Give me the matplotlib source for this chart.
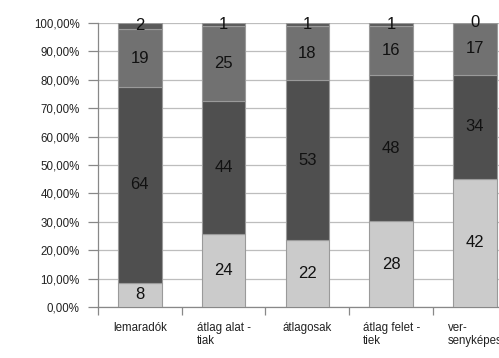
import numpy as np
import matplotlib.pyplot as plt
from matplotlib.ticker import FuncFormatter

plt.rcParams['font.family'] = ['Liberation Sans', 'DejaVu Sans']

categories = ['lemaradók', 'átlag alat -\ntiak', 'átlagosak', 'átlag felet -\ntiek', 'ver-\nsenyképes']
seg1 = [8, 24, 22, 28, 42]
seg2 = [64, 44, 53, 48, 34]
seg3 = [19, 25, 18, 16, 17]
seg4 = [2, 1, 1, 1, 0]

colors = ['#cbcbcb', '#4f4f4f', '#717171', '#5a5a5a']

series = np.array([seg1, seg2, seg3, seg4], dtype=float)
totals = series.sum(axis=0)
shares = series / totals * 100

fig = plt.figure(figsize=(4.99, 3.58), dpi=100)
ax = fig.add_axes([0.196, 0.1425, 0.84, 0.7935])

x = np.arange(len(categories))
bottom = np.zeros(len(categories))
for i in range(len(series)):
    ax.bar(x, shares[i], 0.52, bottom=bottom, color=colors[i],
           edgecolor='#9a9a9a', linewidth=0.8, zorder=3)
    for j in range(len(categories)):
        ax.text(x[j], bottom[j] + shares[i][j] / 2, '%d' % series[i][j],
                ha='center', va='center', fontsize=12, color='#111111', zorder=4)
    bottom += shares[i]

ax.set_xlim(-0.5, len(categories) - 0.5)
ax.set_ylim(0, 100)
ax.set_yticks(np.arange(0, 101, 10))
ax.yaxis.set_major_formatter(FuncFormatter(lambda v, p: ('%.2f%%' % v).replace('.', ',')))
ax.grid(axis='y', color='#bdbdbd', linewidth=0.9, zorder=0)

# category boundaries get tick marks, labels sit at bar centres
ax.set_xticks(np.arange(len(categories) + 1) - 0.5)
ax.set_xticklabels([])
ax.set_xticks(x, minor=True)
ax.set_xticklabels(categories, minor=True, fontsize=8.3, color='#222222',
                   ha='center', multialignment='left', linespacing=1.05)
ax.tick_params(axis='x', which='major', length=6, color='#888888', width=0.9)
ax.tick_params(axis='x', which='minor', length=0, pad=11)
ax.tick_params(axis='y', length=7, color='#888888', width=0.9, pad=6,
               labelsize=8.3, labelcolor='#222222')

for s in ['top', 'right']:
    ax.spines[s].set_visible(False)
for s in ['left', 'bottom']:
    ax.spines[s].set_color('#888888')
    ax.spines[s].set_linewidth(0.9)
ax.spines['left'].set_bounds(0, 100)

fig.savefig('out.png', dpi=100)
